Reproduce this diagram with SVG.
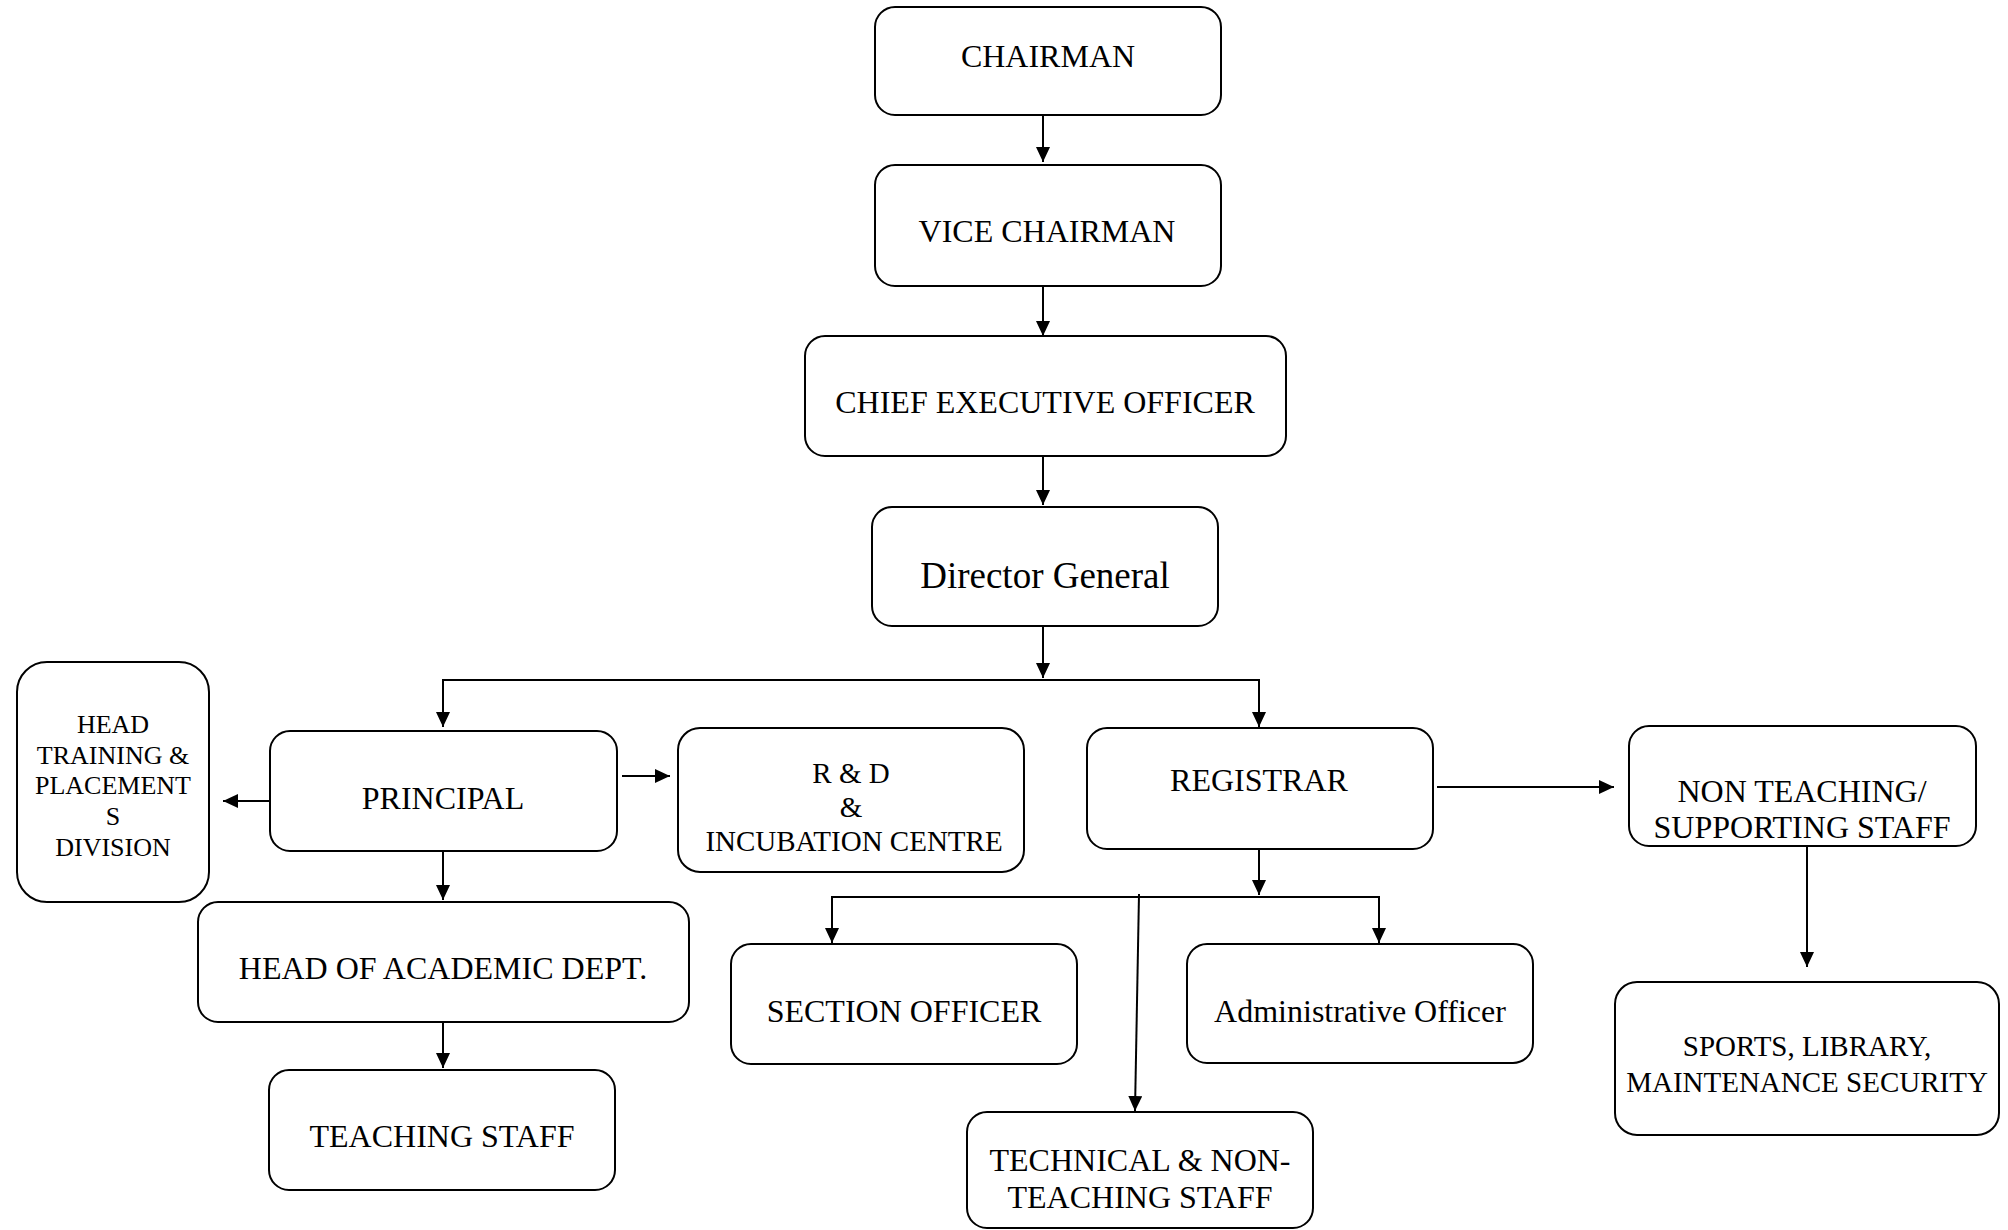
<svg xmlns="http://www.w3.org/2000/svg" width="2008" height="1230" viewBox="0 0 2008 1230">
<style>
.box{fill:#fff;stroke:#000;stroke-width:2}
.t{font-family:"Liberation Serif","Times New Roman",serif;font-size:32px;fill:#000;text-anchor:middle}
.con{fill:none;stroke:#000;stroke-width:2}
</style>
<defs>
<marker id="ah" markerUnits="userSpaceOnUse" markerWidth="16" markerHeight="14" refX="15" refY="7" orient="auto">
<path d="M0,0 L15,7 L0,14 z" fill="#000"/>
</marker>
</defs>
<rect width="2008" height="1230" fill="#fff"/>
<g id="connectors">
<line class="con" x1="1043" y1="115" x2="1043" y2="162" marker-end="url(#ah)"/>
<line class="con" x1="1043" y1="286" x2="1043" y2="336" marker-end="url(#ah)"/>
<line class="con" x1="1043" y1="456" x2="1043" y2="505" marker-end="url(#ah)"/>
<line class="con" x1="1043" y1="626" x2="1043" y2="678" marker-end="url(#ah)"/>
<polyline class="con" points="443,727 443,680 1259,680 1259,727"/>
<line class="con" x1="443" y1="690" x2="443" y2="727" marker-end="url(#ah)"/>
<line class="con" x1="1259" y1="690" x2="1259" y2="727" marker-end="url(#ah)"/>
<line class="con" x1="270" y1="801" x2="223" y2="801" marker-end="url(#ah)"/>
<line class="con" x1="622" y1="776" x2="670" y2="776" marker-end="url(#ah)"/>
<line class="con" x1="443" y1="851" x2="443" y2="900" marker-end="url(#ah)"/>
<line class="con" x1="443" y1="1022" x2="443" y2="1068" marker-end="url(#ah)"/>
<line class="con" x1="1437" y1="787" x2="1614" y2="787" marker-end="url(#ah)"/>
<line class="con" x1="1259" y1="849" x2="1259" y2="895" marker-end="url(#ah)"/>
<polyline class="con" points="832,943 832,897 1379,897 1379,943"/>
<line class="con" x1="832" y1="905" x2="832" y2="943" marker-end="url(#ah)"/>
<line class="con" x1="1379" y1="905" x2="1379" y2="943" marker-end="url(#ah)"/>
<line class="con" x1="1139" y1="894" x2="1135" y2="1111" marker-end="url(#ah)"/>
<line class="con" x1="1807" y1="846" x2="1807" y2="967" marker-end="url(#ah)"/>
</g>
<g id="chairman"><rect class="box" x="875" y="7" width="346" height="108" rx="20"/><text class="t" x="1048" y="67">CHAIRMAN</text></g>
<g id="vice-chairman"><rect class="box" x="875" y="165" width="346" height="121" rx="20"/><text class="t" x="1047" y="242">VICE CHAIRMAN</text></g>
<g id="ceo"><rect class="box" x="805" y="336" width="481" height="120" rx="20"/><text class="t" x="1045" y="413">CHIEF EXECUTIVE OFFICER</text></g>
<g id="director-general"><rect class="box" x="872" y="507" width="346" height="119" rx="20"/><text class="t" x="1045" y="588" style="font-size:37px">Director General</text></g>
<g id="head-training"><rect class="box" x="17" y="662" width="192" height="240" rx="30"/>
<text class="t" style="font-size:26px"><tspan x="113" y="733">HEAD</tspan><tspan x="113" y="764">TRAINING &amp;</tspan><tspan x="113" y="794">PLACEMENT</tspan><tspan x="113" y="825">S</tspan><tspan x="113" y="856">DIVISION</tspan></text></g>
<g id="principal"><rect class="box" x="270" y="731" width="347" height="120" rx="20"/><text class="t" x="443" y="809">PRINCIPAL</text></g>
<g id="rnd"><rect class="box" x="678" y="728" width="346" height="144" rx="22"/>
<text class="t" style="font-size:29px"><tspan x="851" y="783">R &amp; D</tspan><tspan x="851" y="817">&amp;</tspan><tspan x="854" y="851">INCUBATION CENTRE</tspan></text></g>
<g id="registrar"><rect class="box" x="1087" y="728" width="346" height="121" rx="20"/><text class="t" x="1259" y="791">REGISTRAR</text></g>
<g id="non-teaching"><rect class="box" x="1629" y="726" width="347" height="120" rx="20"/>
<text class="t"><tspan x="1802" y="802">NON TEACHING/</tspan><tspan x="1802" y="838">SUPPORTING STAFF</tspan></text></g>
<g id="head-academic"><rect class="box" x="198" y="902" width="491" height="120" rx="20"/><text class="t" x="443" y="979">HEAD OF ACADEMIC DEPT.</text></g>
<g id="teaching-staff"><rect class="box" x="269" y="1070" width="346" height="120" rx="20"/><text class="t" x="442" y="1147">TEACHING STAFF</text></g>
<g id="section-officer"><rect class="box" x="731" y="944" width="346" height="120" rx="20"/><text class="t" x="904" y="1022">SECTION OFFICER</text></g>
<g id="admin-officer"><rect class="box" x="1187" y="944" width="346" height="119" rx="20"/><text class="t" x="1360" y="1022">Administrative Officer</text></g>
<g id="technical"><rect class="box" x="967" y="1112" width="346" height="116" rx="20"/>
<text class="t"><tspan x="1140" y="1171">TECHNICAL &amp; NON-</tspan><tspan x="1140" y="1208">TEACHING STAFF</tspan></text></g>
<g id="sports"><rect class="box" x="1615" y="982" width="384" height="153" rx="22"/>
<text class="t" style="font-size:29px"><tspan x="1807" y="1056">SPORTS, LIBRARY,</tspan><tspan x="1807" y="1092">MAINTENANCE SECURITY</tspan></text></g>
</svg>
